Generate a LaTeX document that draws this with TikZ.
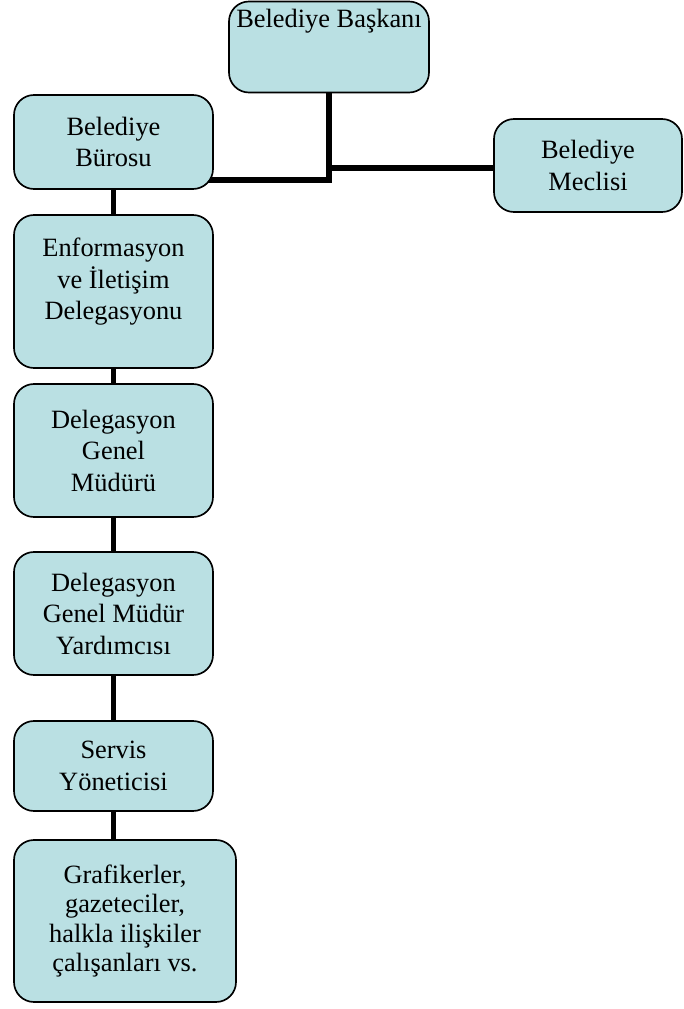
\documentclass[tikz,border=0pt]{standalone}
\usepackage{fontspec}
\setmainfont{Liberation Serif}
\usetikzlibrary{backgrounds}

\begin{document}
\begin{tikzpicture}[x=0.75pt,y=0.75pt,yscale=-1,xscale=1,
  kutu/.style={draw=black,line width=1.25pt,fill={rgb,255:red,186;green,224;blue,227},rounded corners=15pt,inner sep=0pt,align=center,font=\fontsize{19.8}{23.6}\selectfont},
  yazi/.style={inner sep=0pt,align=center,font=\fontsize{19.8}{23.6}\selectfont},
  hat/.style={line width=4.2pt}]
\useasboundingbox (0,0) rectangle (683,1009);

%Shape: Rounded Rect [id:baskan]
\node (baskan) [kutu,minimum width=150pt,minimum height=68.25pt] at (329,47) {};
% Text Node
\node (baskanyazi) [yazi,anchor=base] at (329,28) {Belediye Başkanı};
%Shape: Rounded Rect [id:buro]
\node (buro) [kutu,minimum width=149.25pt,minimum height=70.5pt] at (113.5,142) {Belediye\\Bürosu};
%Shape: Rounded Rect [id:meclis]
\node (meclis) [kutu,minimum width=141pt,minimum height=69.75pt] at (588,165.5) {Belediye\\Meclisi};
%Shape: Rounded Rect [id:enf]
\node (enf) [kutu,minimum width=149.25pt,minimum height=114.75pt] at (113.5,291.5) {};
% Text Node
\node (enfyazi) [yazi] at (113.5,282) {Enformasyon\\ve İletişim\\Delegasyonu};
%Shape: Rounded Rect [id:mudur]
\node (mudur) [kutu,minimum width=149.25pt,minimum height=99.75pt] at (113.5,450.5) {Delegasyon\\Genel\\Müdürü};
%Shape: Rounded Rect [id:yardimci]
\node (yardimci) [kutu,minimum width=149.25pt,minimum height=92.25pt] at (113.5,613.5) {Delegasyon\\Genel Müdür\\Yardımcısı};
%Shape: Rounded Rect [id:servis]
\node (servis) [kutu,minimum width=149.25pt,minimum height=67.5pt] at (113.5,766) {Servis\\Yöneticisi};
%Shape: Rounded Rect [id:calisan]
\node (calisan) [kutu,minimum width=166.5pt,minimum height=121.5pt,font=\fontsize{19.8}{22}\selectfont] at (125,921) {Grafikerler,\\gazeteciler,\\halkla ilişkiler\\çalışanları vs.};

%Straight Lines
\begin{scope}[on background layer]
\draw [hat] (baskan.south) |- ([yshift=-7.5pt,xshift=-6pt]buro.south east) ;
\draw [hat] (baskan.south |- 0,168) -- (meclis.west |- 0,168) ;
\draw [hat] (buro) -- (enf) ;
\draw [hat] (enf) -- (mudur) ;
\draw [hat] (mudur) -- (yardimci) ;
\draw [hat] (yardimci) -- (servis) ;
\draw [hat] (servis.south) -- (servis.south |- calisan.north) ;
\end{scope}

\end{tikzpicture}
\end{document}
